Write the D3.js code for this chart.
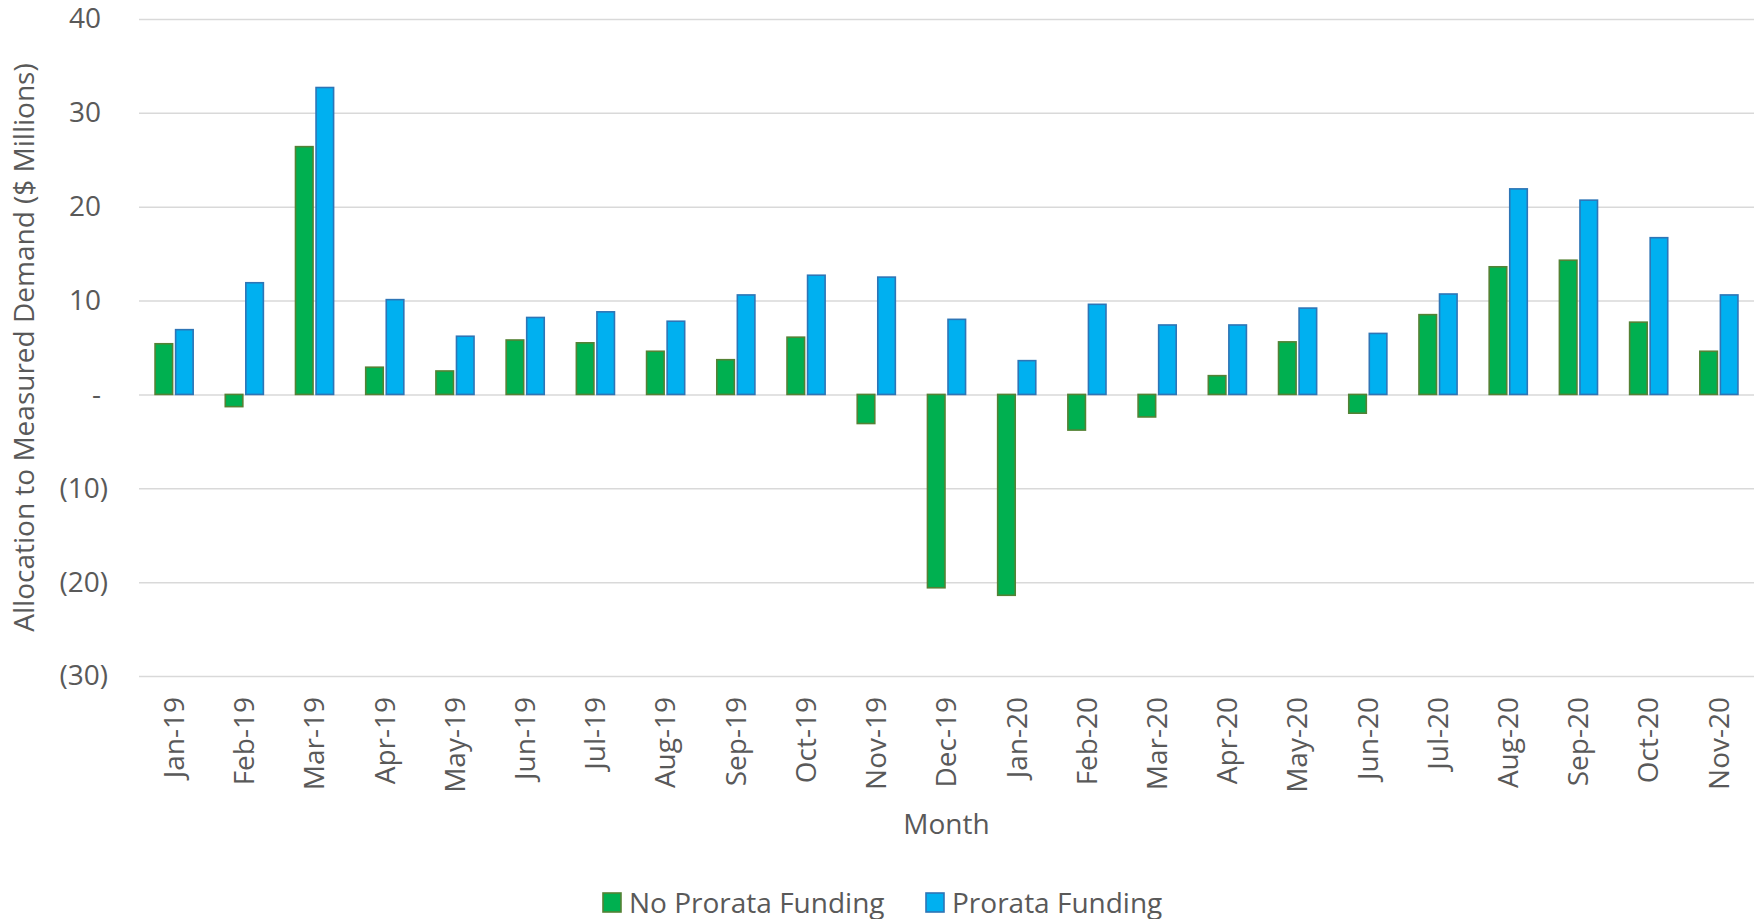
<!DOCTYPE html>
<html>
<head>
<meta charset="utf-8">
<script src="https://cdn.jsdelivr.net/npm/d3@7"></script>
<style>
  body { margin: 0; background: #fff; }
  text { font-family: "Open Sans", sans-serif; fill: #595959; }
  .grid line { stroke: #d9d9d9; stroke-width: 1.5; }
  .grid path { display: none; }
</style>
</head>
<body>
<div id="chart"></div>
<script>
// data
var months = ["Jan-19","Feb-19","Mar-19","Apr-19","May-19","Jun-19","Jul-19","Aug-19",
  "Sep-19","Oct-19","Nov-19","Dec-19","Jan-20","Feb-20","Mar-20","Apr-20","May-20",
  "Jun-20","Jul-20","Aug-20","Sep-20","Oct-20","Nov-20"];

var noProrata = [5.4, -1.3, 26.4, 2.9, 2.5, 5.8, 5.5, 4.6, 3.7, 6.1, -3.1, -20.6, -21.4,
  -3.8, -2.4, 2.0, 5.6, -2.0, 8.5, 13.6, 14.3, 7.7, 4.6];

var prorata = [6.9, 11.9, 32.7, 10.1, 6.2, 8.2, 8.8, 7.8, 10.6, 12.7, 12.5, 8.0, 3.6,
  9.6, 7.4, 7.4, 9.2, 6.5, 10.7, 21.9, 20.7, 16.7, 10.6];

var yTicks = [-30, -20, -10, 0, 10, 20, 30, 40];

var seriesNames = ["No Prorata Funding", "Prorata Funding"];
var fills = ["#00b050", "#00b0f0"];
var strokes = ["#548235", "#2e75b6"];

// set the dimensions and margins of the graph
var margin = {top: 19, right: 9, bottom: 243, left: 139};
var totalW = 1763, totalH = 919;
var width = totalW - margin.left - margin.right;
var height = totalH - margin.top - margin.bottom;
var fontSize = "28px";

var svg = d3.select("#chart").append("svg")
    .attr("width", totalW)
    .attr("height", totalH)
  .append("g")
    .attr("transform", "translate(" + margin.left + "," + margin.top + ")");

var xScale = d3.scaleBand()
  .domain(months)
  .range([0, width]);

var yScale = d3.scaleLinear()
  .domain([-30, 40])
  .range([height, 0]);

// gridlines
svg.append("g")
  .attr("class", "grid")
  .call(d3.axisLeft(yScale).tickValues(yTicks).tickSize(-width).tickFormat(""));

// y axis labels, accounting style
var yAxis = svg.append("g")
  .call(d3.axisLeft(yScale).tickValues(yTicks).tickSize(0).tickFormat(function(d) {
    if (d === 0) return "-";
    return d < 0 ? "(" + Math.abs(d) + ")" : d;
  }));
yAxis.select(".domain").remove();
yAxis.selectAll("text")
  .style("font-size", fontSize)
  .attr("fill", "#595959")
  .attr("x", function(d) { return d < 0 ? -31 : -38; });

// bars
var barW = xScale.bandwidth() * 0.25;
var gap = 3;

var groups = svg.selectAll(".month")
  .data(months)
  .enter()
  .append("g")
    .attr("class", "month")
    .attr("transform", function(d) {
      return "translate(" + (xScale(d) + xScale.bandwidth() / 2) + ",0)";
    });

groups.append("rect")
  .attr("x", -barW - gap / 2)
  .attr("width", barW)
  .attr("y", function(d, i) { return yScale(Math.max(0, noProrata[i])); })
  .attr("height", function(d, i) { return Math.abs(yScale(noProrata[i]) - yScale(0)); })
  .attr("fill", fills[0])
  .attr("stroke", strokes[0])
  .attr("stroke-width", 1.6);

groups.append("rect")
  .attr("x", gap / 2)
  .attr("width", barW)
  .attr("y", function(d, i) { return yScale(Math.max(0, prorata[i])); })
  .attr("height", function(d, i) { return Math.abs(yScale(prorata[i]) - yScale(0)); })
  .attr("fill", fills[1])
  .attr("stroke", strokes[1])
  .attr("stroke-width", 1.6);

// x axis labels, rotated
var xAxis = svg.append("g")
  .attr("transform", "translate(0," + (height + 21) + ")")
  .call(d3.axisBottom(xScale).tickSize(0));
xAxis.select(".domain").remove();
xAxis.selectAll("text")
  .style("font-size", fontSize)
  .attr("fill", "#595959")
  .attr("text-anchor", "end")
  .attr("x", 0)
  .attr("y", 0)
  .attr("dy", "0.35em")
  .attr("transform", "rotate(-90)");

// axis titles
svg.append("text")
  .attr("x", width / 2)
  .attr("y", 815)
  .attr("text-anchor", "middle")
  .style("font-size", fontSize)
  .text("Month");

svg.append("text")
  .attr("transform", "translate(" + (-105) + "," + (height / 2) + ") rotate(-90)")
  .attr("text-anchor", "middle")
  .style("font-size", fontSize)
  .text("Allocation to Measured Demand ($ Millions)");

// legend
var legendX = [603 - margin.left, 926 - margin.left];
var legend = svg.selectAll(".legend")
  .data(seriesNames)
  .enter()
  .append("g")
    .attr("class", "legend")
    .attr("transform", function(d, i) {
      return "translate(" + legendX[i] + "," + (893 - margin.top) + ")";
    });

legend.append("rect")
  .attr("width", 18)
  .attr("height", 19)
  .attr("fill", function(d, i) { return fills[i]; })
  .attr("stroke", function(d, i) { return strokes[i]; })
  .attr("stroke-width", 1.6);

legend.append("text")
  .attr("x", 26)
  .attr("y", 10)
  .attr("dy", "0.35em")
  .style("font-size", fontSize)
  .text(function(d) { return d; });
</script>
</body>
</html>
